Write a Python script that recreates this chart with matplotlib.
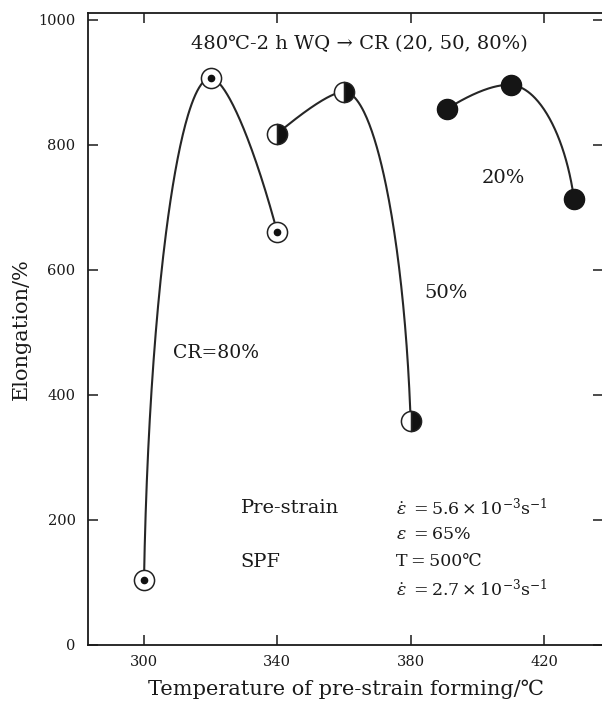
import numpy as np
import matplotlib
matplotlib.use("Agg")
import matplotlib.pyplot as plt

# ---- data ----
temp_80 = [300, 320, 340]
elong_80 = [104, 907, 660]
temp_50 = [340, 360, 380]
elong_50 = [818, 885, 358]
temp_20 = [391, 410, 429]
elong_20 = [858, 896, 714]
xticks = [300, 340, 380, 420]
yticks = [0, 200, 400, 600, 800, 1000]

# tangent directions (deg, screen space) used to draw the smooth curves
ang_80 = [89, 0, -75]
ang_50 = [40, 0, -88]
ang_20 = [32, -3, -82]

plt.rcParams['font.family'] = ['DejaVu Serif', 'DejaVu Sans']
plt.rcParams['mathtext.fontset'] = 'dejavuserif'

W, H = 602, 713
fig = plt.figure(figsize=(W / 100, H / 100), dpi=100)
ax_l, ax_r, ax_b, ax_t = 88, 603, 645, 13
ax = fig.add_axes([ax_l / W, 1 - ax_b / H, (ax_r - ax_l) / W, (ax_b - ax_t) / H])
xmin, xmax = 283.2, 437.7
ymin, ymax = 0, 1011
ax.set_xlim(xmin, xmax)
ax.set_ylim(ymin, ymax)

sx = (ax_r - ax_l) / (xmax - xmin)
sy = (ax_b - ax_t) / (ymax - ymin)


def smooth(xs, ys, angs, n=100):
    px = np.array(xs, float) * sx
    py = np.array(ys, float) * sy
    out_x, out_y = [], []
    for i in range(len(xs) - 1):
        p0 = np.array([px[i], py[i]])
        p1 = np.array([px[i + 1], py[i + 1]])
        a0, a1 = np.radians(angs[i]), np.radians(angs[i + 1])
        d0 = np.array([np.cos(a0), np.sin(a0)])
        d1 = np.array([np.cos(a1), np.sin(a1)])
        # intersection of tangent lines: p0 + s d0 = p1 - u d1
        M = np.column_stack([d0, d1])
        try:
            s, u = np.linalg.solve(M, p1 - p0)
        except np.linalg.LinAlgError:
            s = u = -1
        L = np.linalg.norm(p1 - p0)
        if s > 0 and u > 0:
            theta = abs(np.arctan2(d0[0] * d1[1] - d0[1] * d1[0], d0 @ d1))
            k = (4 / 3) * np.tan(theta / 4) / np.tan(theta / 2) if theta > 1e-3 else 2 / 3
            c0 = p0 + d0 * s * k
            c1 = p1 - d1 * u * k
        else:
            c0 = p0 + d0 * L / 3
            c1 = p1 - d1 * L / 3
        t = np.linspace(0, 1, n)[:, None]
        b = ((1 - t) ** 3) * p0 + 3 * ((1 - t) ** 2) * t * c0 + 3 * (1 - t) * t ** 2 * c1 + t ** 3 * p1
        out_x.extend(b[:, 0] / sx)
        out_y.extend(b[:, 1] / sy)
    return out_x, out_y


lc = '#262626'
for xs, ys, angs in [(temp_80, elong_80, ang_80), (temp_50, elong_50, ang_50),
                     (temp_20, elong_20, ang_20)]:
    cx, cy = smooth(xs, ys, angs)
    ax.plot(cx, cy, color=lc, lw=1.5, zorder=2, solid_capstyle='round')

ms = 14.5
# CR = 80%: bullseye
ax.plot(temp_80, elong_80, 'o', ms=ms, mfc='white', mec='#222222', mew=1.1, zorder=3)
ax.plot(temp_80, elong_80, 'o', ms=4.5, mfc='#111111', mec='#111111', zorder=4)
# 50%: half filled
ax.plot(temp_50, elong_50, 'o', ms=ms, fillstyle='right', mfc='#111111',
        markerfacecoloralt='white', mec='#222222', mew=1.1, zorder=3)
# 20%: filled
ax.plot(temp_20, elong_20, 'o', ms=ms, mfc='#151515', mec='#151515', zorder=3)

ax.set_xticks(xticks)
ax.set_yticks(yticks)
ax.tick_params(direction='in', length=7, width=1.1, top=True, right=True,
               labelsize=10.5, colors='#1a1a1a')
ax.tick_params(axis='x', pad=7)
ax.tick_params(axis='y', pad=9)
for s in ax.spines.values():
    s.set_linewidth(1.3)
    s.set_color('#1a1a1a')

ax.set_xlabel('Temperature of pre-strain forming/℃', fontsize=15, labelpad=8, color='#1a1a1a')
ax.set_ylabel('Elongation/%', fontsize=15, labelpad=5, color='#1a1a1a')

tc = '#1a1a1a'
ax.text(364.5, 961, '480℃-2 h WQ → CR (20, 50, 80%)', fontsize=14, ha='center', va='center', color=tc)
ax.text(308.7, 467, 'CR=80%', fontsize=13.5, ha='left', va='center', color=tc)
ax.text(384, 563, '50%', fontsize=14, ha='left', va='center', color=tc)
ax.text(401.4, 747, '20%', fontsize=14, ha='left', va='center', color=tc)

ax.text(329, 219, 'Pre-strain', fontsize=14, ha='left', va='center', color=tc)
ax.text(329, 133, 'SPF', fontsize=14, ha='left', va='center', color=tc)
ax.text(375.5, 219, r'$\dot{\varepsilon}\;=5.6\times10^{-3}\mathrm{s}^{-1}$', fontsize=12.5, ha='left', va='center', color=tc)
ax.text(375.5, 176, r'$\varepsilon\;=65\%$', fontsize=12.5, ha='left', va='center', color=tc)
ax.text(375.5, 133, 'T\u2009=\u2009500℃', fontsize=12.5, ha='left', va='center', color=tc)
ax.text(375.5, 88, r'$\dot{\varepsilon}\;=2.7\times10^{-3}\mathrm{s}^{-1}$', fontsize=12.5, ha='left', va='center', color=tc)

fig.savefig('out.png', dpi=100)
